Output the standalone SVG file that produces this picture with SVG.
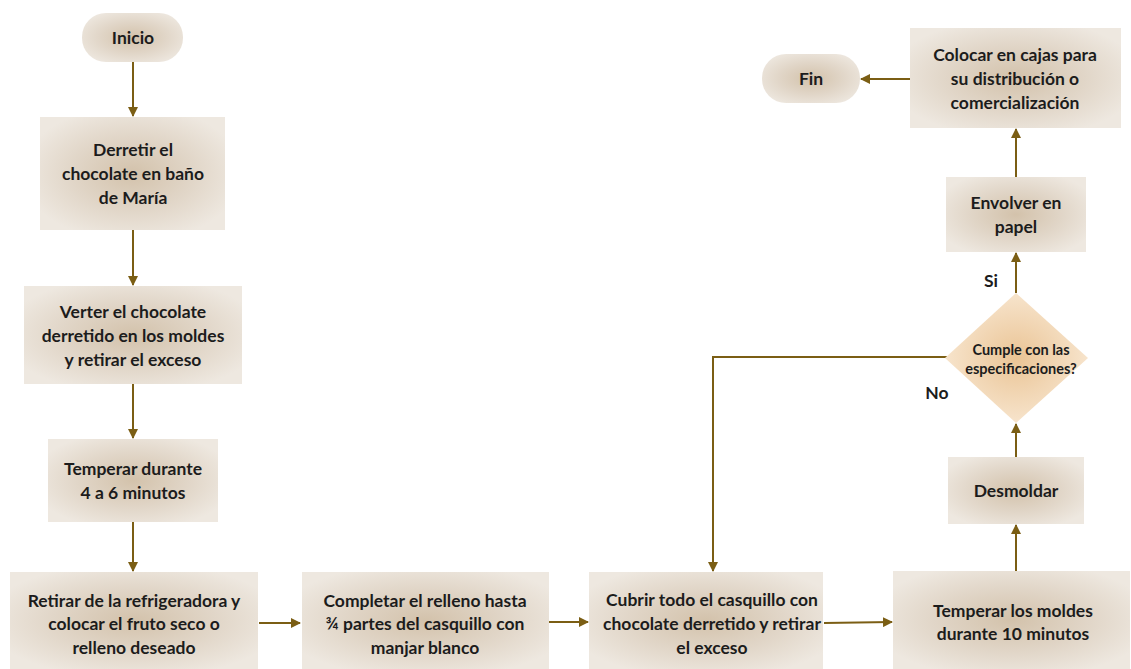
<svg xmlns="http://www.w3.org/2000/svg" width="1131" height="669" viewBox="0 0 1131 669">
<defs>
<radialGradient id="g" cx="50%" cy="50%" r="60%">
<stop offset="0" stop-color="#d3c2ab"/>
<stop offset="0.55" stop-color="#e1d6c8"/>
<stop offset="1" stop-color="#eee8e0"/>
</radialGradient>
<radialGradient id="gd" cx="50%" cy="50%" r="50%">
<stop offset="0" stop-color="#eac495"/>
<stop offset="1" stop-color="#f7e4cc"/>
</radialGradient>
<marker id="ah" viewBox="0 0 10 10" refX="9" refY="5" markerWidth="5" markerHeight="5" orient="auto" markerUnits="strokeWidth">
<path d="M0,0 L10,5 L0,10 z" fill="#7b5e14"/>
</marker>
<style>
.box{fill:url(#g);}
.dia{fill:url(#gd);}
.t{font-family:Lato,"Open Sans","Liberation Sans",sans-serif;font-weight:bold;font-size:17.5px;fill:#1c1c1c;text-anchor:middle;}
.ts{font-size:14.5px;}
.c{fill:none;stroke:#7b5e14;stroke-width:2;marker-end:url(#ah);}
</style>
</defs>
<rect width="1131" height="669" fill="#ffffff"/>
<g id="connectors">
<line class="c" x1="133" y1="62" x2="133" y2="116"/>
<line class="c" x1="133" y1="230" x2="133" y2="285"/>
<line class="c" x1="133" y1="384" x2="133" y2="438"/>
<line class="c" x1="133" y1="522" x2="133" y2="571"/>
<line class="c" x1="259" y1="623" x2="300" y2="623"/>
<line class="c" x1="549" y1="622" x2="588" y2="622"/>
<line class="c" x1="824" y1="623" x2="892" y2="622"/>
<line class="c" x1="1016" y1="571" x2="1016" y2="525"/>
<line class="c" x1="1016" y1="457" x2="1016" y2="424"/>
<line class="c" x1="1016" y1="293" x2="1016" y2="253"/>
<line class="c" x1="1016" y1="177" x2="1016" y2="129"/>
<line class="c" x1="910" y1="79" x2="861" y2="79"/>
<polyline class="c" points="947,357 713,357 713,571"/>
<text class="t" x="991" y="287">Si</text>
<text class="t" x="937" y="399">No</text>
</g>
<g id="inicio">
<rect class="box" x="82" y="13" width="101" height="49" rx="24" ry="24"/>
<text class="t" x="133" y="44">Inicio</text>
</g>
<g id="derretir">
<rect class="box" x="40" y="117" width="185" height="113"/>
<text class="t" x="133" y="156">Derretir el</text>
<text class="t" x="133" y="180">chocolate en baño</text>
<text class="t" x="133" y="204">de María</text>
</g>
<g id="verter">
<rect class="box" x="24" y="286" width="218" height="98"/>
<text class="t" x="133" y="318">Verter el chocolate</text>
<text class="t" x="133" y="342">derretido en los moldes</text>
<text class="t" x="133" y="366">y retirar el exceso</text>
</g>
<g id="temperar">
<rect class="box" x="48" y="439" width="170" height="83"/>
<text class="t" x="133" y="475">Temperar durante</text>
<text class="t" x="133" y="499">4 a 6 minutos</text>
</g>
<g id="retirar">
<rect class="box" x="10" y="572" width="248" height="97"/>
<text class="t" x="134" y="607">Retirar de la refrigeradora y</text>
<text class="t" x="134" y="630">colocar el fruto seco o</text>
<text class="t" x="134" y="654">relleno deseado</text>
</g>
<g id="completar">
<rect class="box" x="302" y="572" width="247" height="97"/>
<text class="t" x="425" y="607">Completar el relleno hasta</text>
<text class="t" x="425" y="630">¾ partes del casquillo con</text>
<text class="t" x="425" y="654">manjar blanco</text>
</g>
<g id="cubrir">
<rect class="box" x="589" y="572" width="234" height="97"/>
<text class="t" x="712" y="606">Cubrir todo el casquillo con</text>
<text class="t" x="712" y="630">chocolate derretido y retirar</text>
<text class="t" x="712" y="654">el exceso</text>
</g>
<g id="temperar-moldes">
<rect class="box" x="893" y="571" width="237" height="98"/>
<text class="t" x="1013" y="617">Temperar los moldes</text>
<text class="t" x="1013" y="640">durante 10 minutos</text>
</g>
<g id="desmoldar">
<rect class="box" x="948" y="457" width="136" height="67"/>
<text class="t" x="1016" y="497">Desmoldar</text>
</g>
<g id="decision">
<polygon class="dia" points="1016,293 1088,358 1016,423 945,358"/>
<text class="t ts" x="1021" y="355">Cumple con las</text>
<text class="t ts" x="1021" y="374">especificaciones?</text>
</g>
<g id="envolver">
<rect class="box" x="946" y="177" width="140" height="75"/>
<text class="t" x="1016" y="209">Envolver en</text>
<text class="t" x="1016" y="233">papel</text>
</g>
<g id="colocar">
<rect class="box" x="910" y="28" width="211" height="100"/>
<text class="t" x="1015" y="61">Colocar en cajas para</text>
<text class="t" x="1015" y="85">su distribución o</text>
<text class="t" x="1015" y="109">comercialización</text>
</g>
<g id="fin">
<rect class="box" x="762" y="54" width="98" height="49" rx="24" ry="24"/>
<text class="t" x="811" y="85">Fin</text>
</g>
</svg>
